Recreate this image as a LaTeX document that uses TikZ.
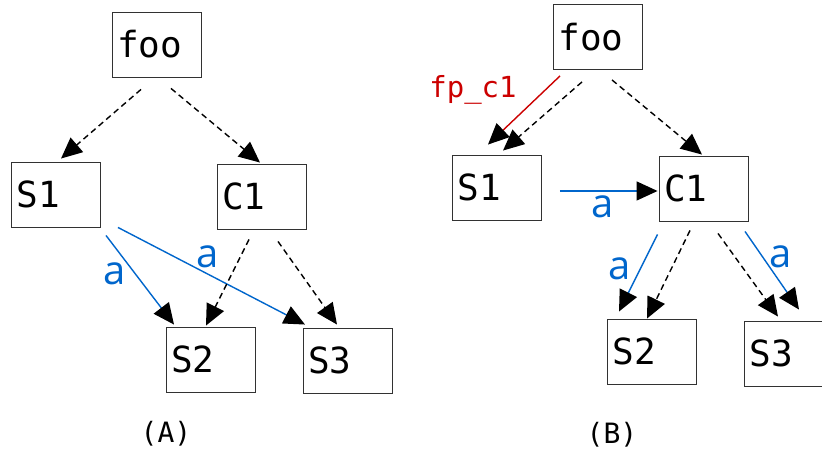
\documentclass[tikz,border=0pt]{standalone}
\usepackage{fontspec}
\setmonofont{DejaVu Sans Mono}
\newfontfamily\lblfont{Open Sans}
\usetikzlibrary{arrows.meta,calc}
\definecolor{edgeblue}{RGB}{0,102,204}
\definecolor{edgered}{RGB}{204,0,0}
\definecolor{boxgray}{RGB}{50,50,50}
\tikzset{
  box/.style={draw=boxgray, line width=0.9pt, rectangle, minimum width=89pt, minimum height=65pt,
    text width=79pt, inner xsep=5pt, inner ysep=0pt, align=left, font=\fontsize{36}{40}\selectfont\ttfamily},
  tip/.style={-{Triangle[length=21pt,width=19pt,black]}},
  dep/.style={tip, line width=1.4pt, dash pattern=on 6pt off 4pt, black},
  alink/.style={tip, line width=1.4pt, draw=edgeblue},
  flink/.style={tip, line width=1.4pt, draw=edgered},
  alabel/.style={text=edgeblue, font=\fontsize{40}{44}\selectfont\lblfont, inner sep=0pt},
  flabel/.style={text=edgered, font=\fontsize{29}{32}\selectfont\ttfamily, inner sep=0pt},
  caption/.style={font=\fontsize{28}{32}\selectfont\ttfamily, inner sep=0pt}
}
\begin{document}
\begin{tikzpicture}[x=1pt,y=1pt]
\clip (0,0) rectangle (822,452);
\fill[white] (0,0) rectangle (822,452);
% ---- (A)
\node[box] (fooA) at (156.5,407.5) {foo};
\node[box] (S1A) at (56,257.5) {S1};
\node[box] (C1A) at (261.5,255.5) {C1};
\node[box] (S2A) at (210.5,92.5) {S2};
\node[box] (S3A) at (347.5,91.5) {S3};
\node[caption] (capA) at (166,18) {(A)};
\draw[dep] ($(fooA.south)+(-15.5,-12)$) -- ($(S1A.north)+(5,3)$);
\draw[dep] ($(fooA.south)+(14.5,-11)$) -- ($(C1A.north)+(-1.5,1)$);
\draw[alink] ($(S1A.south)+(50,-8)$) -- ($(S2A.north)+(-36.5,2)$);
\draw[alink] ($(S1A.south east)+(17,0)$) -- ($(S3A.north)+(-42.5,3)$);
\draw[dep] ($(C1A.south)+(-12.5,-10)$) -- ($(S2A.north)+(-4.5,1)$);
\draw[dep] ($(C1A.south)+(16.5,-12)$) -- ($(S3A.north)+(-10.5,3)$);
\node[alabel] (la1) at (115,178) {a};
\node[alabel] (la2) at (208,195) {a};
% ---- (B)
\node[box] (fooB) at (598,415) {foo};
\node[box] (S1B) at (497,264.5) {S1};
\node[box] (C1B) at (703.5,263.5) {C1};
\node[box] (S2B) at (652,100.5) {S2};
\node[box] (S3B) at (789,98.5) {S3};
\node[caption] (capB) at (612,17) {(B)};
\draw[flink] ($(fooB.south)+(-38,-6)$) -- ($(S1B.north)+(-9,10)$);
\draw[dep] ($(fooB.south)+(-16,-12)$) -- ($(S1B.north)+(6,4)$);
\draw[dep] ($(fooB.south)+(14,-10)$) -- ($(C1B.north)+(-1.5,1)$);
\draw[alink] ($(S1B.east)+(18,-3.5)$) -- ($(C1B.west)+(-1,-2.5)$);
\draw[alink] ($(C1B.south west)+(-1,-13)$) -- ($(S2B.north)+(-33,7)$);
\draw[dep] ($(C1B.south)+(-13.5,-9)$) -- ($(S2B.north)+(-5,0)$);
\draw[dep] ($(C1B.south)+(14.5,-12)$) -- ($(S3B.north)+(-11,4)$);
\draw[alink] ($(C1B.south)+(41.5,-10)$) -- ($(S3B.north)+(10,11)$);
\node[flabel] (lf) at (473,362) {fp\_c1};
\node[alabel] (lb1) at (603,245) {a};
\node[alabel] (lb2) at (620,183) {a};
\node[alabel] (lb3) at (781,195) {a};
\end{tikzpicture}
\end{document}
